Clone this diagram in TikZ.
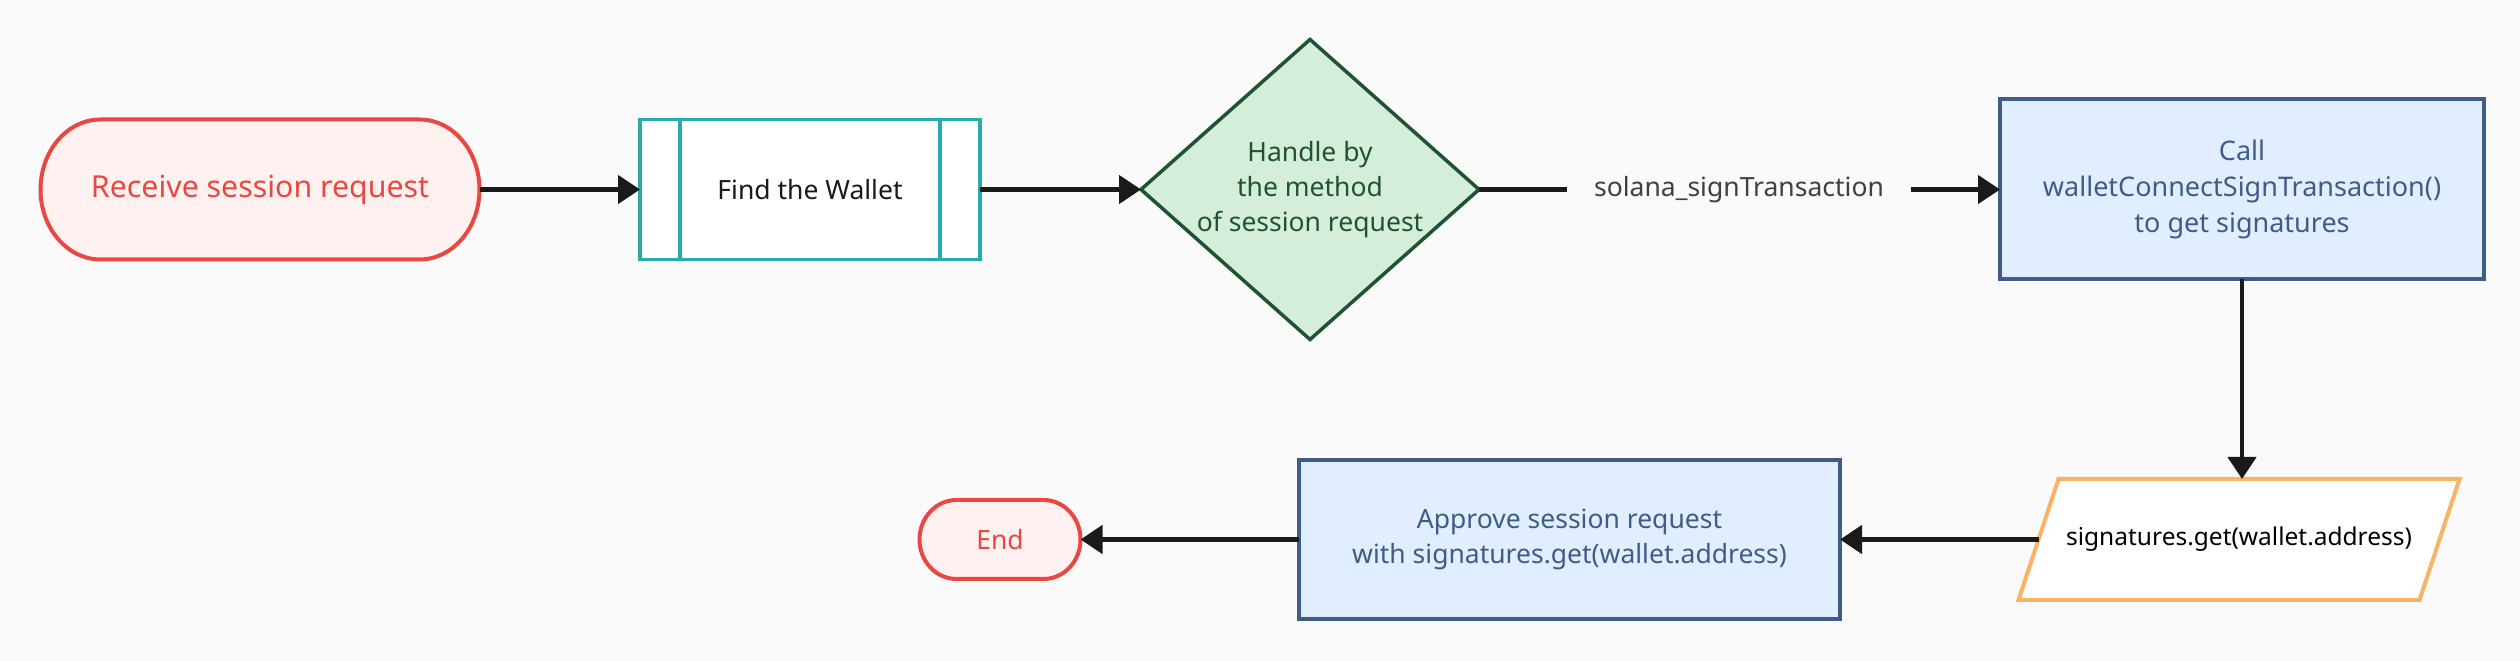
\documentclass[tikz,border=0pt]{standalone}
\usepackage{fontspec}
\setmainfont{Noto Sans}
\usetikzlibrary{arrows.meta}
\pgfdeclarelayer{bglayer}
\pgfdeclarelayer{shapelayer}
\pgfsetlayers{bglayer,shapelayer,main}
\definecolor{bgc}{RGB}{250,250,250}
\definecolor{termred}{RGB}{232,72,64}
\definecolor{termfill}{RGB}{255,241,240}
\definecolor{mytealc}{RGB}{36,173,170}
\definecolor{dgreen}{RGB}{30,84,48}
\definecolor{gfill}{RGB}{213,237,219}
\definecolor{bluefill}{RGB}{225,238,255}
\definecolor{bluedark}{RGB}{62,92,135}
\definecolor{orangec}{RGB}{250,178,100}
\definecolor{arrowc}{RGB}{26,26,26}
\definecolor{labelc}{RGB}{64,64,64}
\tikzset{
  basefont/.style={font=\fontsize{26.5}{35}\selectfont},
  txtnode/.style={basefont, align=center, outer sep=0pt, inner sep=0pt},
  termshape/.style={draw=termred, fill=termfill, line width=4pt},
  procbox/.style={txtnode, draw=bluedark, fill=bluefill, text=bluedark, line width=4pt},
  conn/.style={draw=arrowc, line width=4.5pt, -{Triangle[length=22pt,width=28pt]}},
  plainline/.style={draw=arrowc, line width=4.5pt},
}
\begin{document}
\begin{tikzpicture}[x=1pt,y=1pt]
\begin{pgfonlayer}{bglayer}
\fill[bgc] (0,0) rectangle (2520,661);
\end{pgfonlayer}
\useasboundingbox (0,0) rectangle (2520,661);

% nodes
\node[txtnode, text=termred, font=\fontsize{30.3}{40}\selectfont, minimum width=439pt, minimum height=140pt] (start) at (260,471.5) {Receive session request};
\node[txtnode, draw=mytealc, fill=white, line width=3.5pt, text=arrowc, minimum width=340pt, minimum height=140pt] (find) at (810,471.5) {Find the Wallet};
\node[txtnode, text=dgreen, minimum width=338pt, minimum height=300pt] (dia) at (1310,471.5) {Handle by\\the method\\of session request};
\node[txtnode, text=labelc, inner xsep=27pt] (lab) at (1739,471.5) {solana\_signTransaction};
\node[procbox, font=\fontsize{27}{36}\selectfont, minimum width=484pt, minimum height=180pt] (call) at (2242,471.5) {Call\\walletConnectSignTransaction()\\to get signatures};
\node[txtnode, text=black, font=\fontsize{24.5}{33}\selectfont, minimum width=401pt, minimum height=121pt] (sig) at (2239,121.5) {signatures.get(wallet.address)};
\node[procbox, minimum width=541pt, minimum height=159pt] (app) at (1569.5,121.5) {Approve session request\\with signatures.get(wallet.address)};
\node[txtnode, text=termred, minimum width=161pt, minimum height=79pt] (endn) at (1000,121.5) {End};

% shapes
\begin{pgfonlayer}{shapelayer}
\path[termshape] ([xshift=60pt]start.north west) -- ([xshift=-60pt]start.north east)
  arc[start angle=90, end angle=-90, x radius=60pt, y radius=70pt]
  -- ([xshift=60pt]start.south west)
  arc[start angle=270, end angle=90, x radius=60pt, y radius=70pt] -- cycle;
\path[termshape] ([xshift=37pt]endn.north west) -- ([xshift=-37pt]endn.north east)
  arc[start angle=90, end angle=-90, x radius=37pt, y radius=39.5pt]
  -- ([xshift=37pt]endn.south west)
  arc[start angle=270, end angle=90, x radius=37pt, y radius=39.5pt] -- cycle;
\path[draw=dgreen, fill=gfill, line width=3.5pt, line join=miter] (dia.north) -- (dia.east) -- (dia.south) -- (dia.west) -- cycle;
\path[draw=orangec, fill=white, line width=4pt] ([xshift=20pt]sig.north west) -- ([xshift=20pt]sig.north east) -- ([xshift=-20pt]sig.south east) -- ([xshift=-20pt]sig.south west) -- cycle;
\end{pgfonlayer}
\draw[mytealc, line width=3.5pt] ([xshift=40pt]find.north west) -- ([xshift=40pt]find.south west);
\draw[mytealc, line width=3.5pt] ([xshift=-40pt]find.north east) -- ([xshift=-40pt]find.south east);

% connectors
\draw[conn] (start.east) -- (find.west);
\draw[conn] (find.east) -- (dia.west);
\draw[plainline] (dia.east) -- (lab.west);
\draw[conn] (lab.east) -- (lab.east -| call.west);
\draw[conn] (call.south) -- (call.south |- sig.north);
\draw[conn] (sig.west) -- (app.east);
\draw[conn] (app.west) -- (endn.east);
\end{tikzpicture}
\end{document}
